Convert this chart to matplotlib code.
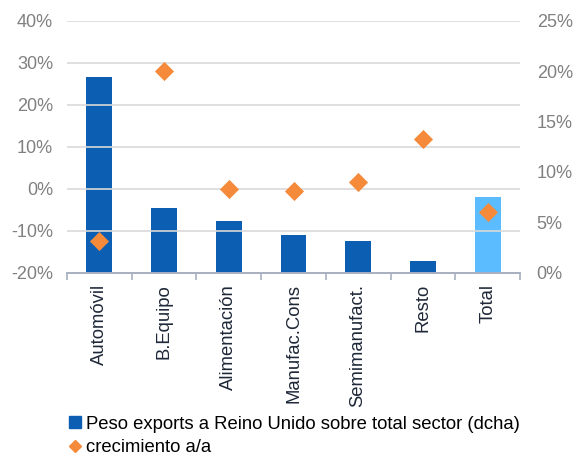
import numpy as np
import matplotlib.pyplot as plt
from matplotlib.ticker import FuncFormatter, FixedLocator
from matplotlib.lines import Line2D

plt.rcParams['font.family'] = ['Liberation Sans', 'DejaVu Sans']

sectores = ['Automóvil', 'B.Equipo', 'Alimentación', 'Manufac.Cons',
            'Semimanufact.', 'Resto', 'Total']
peso_ru = [19.4, 6.4, 5.15, 3.75, 3.15, 1.15, 7.5]          # % (eje dcha)
crecimiento = [-12.4, 28.0, -0.2, -0.6, 1.7, 11.8, -5.5]    # % (eje izq)

azul = '#0B5EB2'
azul_total = '#5BBDFF'
naranja = '#F58A3A'
gris = '#808080'

fig = plt.figure(figsize=(5.76, 4.59), dpi=100)
ax = fig.add_axes([0.1163, 0.406, 0.7865, 0.549])
ax2 = ax.twinx()

x = np.arange(len(sectores))
colores = [azul] * (len(sectores) - 1) + [azul_total]

# barras en el eje derecho, rombos en el izquierdo
ax2.bar(x, peso_ru, width=0.4, color=colores, zorder=2)
ax.set_zorder(ax2.get_zorder() + 1)
ax.patch.set_visible(False)
ax.scatter(x, crecimiento, marker='D', s=95, color=naranja, zorder=3,
           linewidths=0)

ax.set_xlim(-0.5, len(sectores) - 0.5)
ax.set_ylim(-20, 40)
ax2.set_ylim(0, 25)
ax.set_yticks(np.arange(-20, 41, 10))
ax2.set_yticks(np.arange(0, 26, 5))
pct = FuncFormatter(lambda v, p: f'{v:.0f}%')
ax.yaxis.set_major_formatter(pct)
ax2.yaxis.set_major_formatter(pct)

ax2.yaxis.grid(False)
for v in np.arange(-10, 41, 10):
    ax.axhline(v, color='#D9D9D9', lw=1.2, zorder=0)

for a in (ax, ax2):
    for s in ('top', 'left', 'right'):
        a.spines[s].set_visible(False)
    a.spines['bottom'].set_color('#A8B0C0')
    a.spines['bottom'].set_linewidth(1.2)
    a.tick_params(axis='y', length=0, labelsize=13, labelcolor=gris)
ax.tick_params(axis='y', pad=10)
ax2.tick_params(axis='y', pad=12)

ax.set_xticks(x)
ax.set_xticklabels(sectores, rotation=90, fontsize=13.3, color='#1E2838')
ax.tick_params(axis='x', which='major', length=0, pad=8)
ax.xaxis.set_minor_locator(FixedLocator(np.arange(-0.5, len(sectores), 1)))
ax.tick_params(axis='x', which='minor', length=5, color='#A8B0C0', width=1.2)
ax2.tick_params(axis='x', length=0)

handles = [
    Line2D([], [], marker='s', ls='none', color=azul, markersize=8),
    Line2D([], [], marker='D', ls='none', color=naranja, markersize=6),
]
fig.legend(handles, ['Peso exports a Reino Unido sobre total sector (dcha)',
                     'crecimiento a/a'],
           loc='lower left', bbox_to_anchor=(0.095, -0.018), frameon=False,
           fontsize=13.3, handletextpad=0.1, handlelength=1.0,
           labelspacing=0.35, borderaxespad=0.2)

fig.savefig('out.png', dpi=100)
